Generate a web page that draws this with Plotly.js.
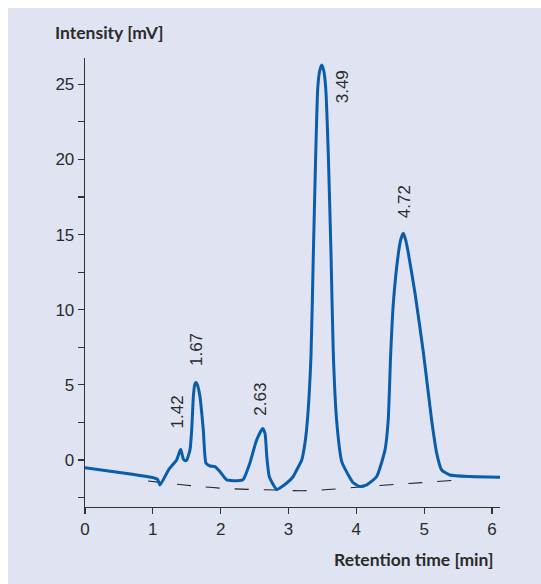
<!DOCTYPE html>
<html>
<head>
<meta charset="utf-8">
<script src="https://cdn.plot.ly/plotly-3.0.1.min.js"></script>
<style>
  html, body { margin: 0; padding: 0; background: #ffffff; width: 541px; height: 584px; overflow: hidden; }
  #chart { position: absolute; left: 8px; top: 8px; width: 533px; height: 576px; }
</style>
</head>
<body>
<div id="chart"></div>
<script>
// Chromatogram signal (retention time in min, intensity in mV)
const signalTime = [0.00, 0.98, 1.07, 1.106, 1.23, 1.35, 1.41, 1.45, 1.48, 1.50, 1.548, 1.573, 1.597, 1.615, 1.636, 1.66, 1.695, 1.744, 1.784, 1.843, 1.917, 1.99, 2.089, 2.285, 2.334, 2.43, 2.53, 2.62, 2.654, 2.68, 2.717, 2.826, 2.97, 3.07, 3.12, 3.195, 3.245, 3.285, 3.332, 3.366, 3.401, 3.431, 3.46, 3.49, 3.52, 3.549, 3.587, 3.627, 3.661, 3.711, 3.785, 3.907, 3.95, 4.05, 4.153, 4.30, 4.423, 4.47, 4.507, 4.545, 4.62, 4.66, 4.693, 4.73, 4.767, 4.865, 4.99, 5.11, 5.185, 5.258, 5.38, 5.676, 6.19];
const signalValue = [-0.51, -1.15, -1.29, -1.66, -0.67, 0.0, 0.71, 0.05, -0.05, 0.0, 0.67, 2.0, 4.2, 4.95, 5.15, 4.95, 4.2, 2.0, -0.22, -0.40, -0.44, -0.78, -1.33, -1.37, -1.29, -0.22, 1.33, 2.1, 1.77, 0.22, -1.11, -1.95, -1.55, -1.1, -0.67, 0.0, 1.2, 3.0, 6.99, 13.64, 20.29, 24.73, 25.9, 26.28, 25.9, 24.73, 20.29, 13.64, 6.99, 2.55, -0.11, -1.2, -1.5, -1.77, -1.66, -1.1, 0.67, 2.66, 7.1, 10.4, 13.75, 14.75, 15.08, 14.6, 13.75, 11.1, 7.1, 2.66, 0.44, -0.67, -1.0, -1.1, -1.15];

// Dashed baseline
const baseTime = [0.93, 1.5, 2.0, 2.8, 3.3, 4.0, 4.5, 5.0, 5.6];
const baseValue = [-1.40, -1.68, -1.88, -2.00, -2.04, -1.82, -1.65, -1.50, -1.30];

// Peak labels (apex positions)
const peakLabels = ['1.42', '1.67', '2.63', '3.49', '4.72'];
const peakTime = [1.41, 1.636, 2.62, 3.49, 4.693];
const peakValue = [0.71, 5.15, 2.1, 26.28, 15.08];

// Axis ticks
const yTickVals = [0, 5, 10, 15, 20, 25];
const xTickVals = [0, 1, 2, 3, 4, 5, 6];

const labelShift = [
  {xs: -3, ys: 19, ya: 'bottom'},
  {xs: 0, ys: 15, ya: 'bottom'},
  {xs: -2, ys: 11, ya: 'bottom'},
  {xs: 21, ys: -3, ya: 'top'},
  {xs: 2, ys: 13, ya: 'bottom'}
];

const textColor = '#2b2b2b';
const tickFont = {family: 'Liberation Sans, Arial, sans-serif', size: 17, color: textColor};
const titleFont = {family: 'Lato, sans-serif', size: 17.5, color: textColor, weight: 700};

const traces = [
  {
    x: baseTime, y: baseValue, type: 'scatter', mode: 'lines',
    line: {color: '#222222', width: 1.1, dash: '14px,15px', shape: 'spline', smoothing: 1},
    hoverinfo: 'skip', showlegend: false
  },
  {
    x: signalTime, y: signalValue, type: 'scatter', mode: 'lines',
    line: {color: '#0a5daa', width: 3, shape: 'spline', smoothing: 0.5},
    hoverinfo: 'skip', showlegend: false
  }
];

const annotations = peakLabels.map((t, i) => ({
  x: peakTime[i], y: peakValue[i], xref: 'x', yref: 'y',
  text: t, showarrow: false, textangle: -90,
  xanchor: 'center', yanchor: labelShift[i].ya,
  xshift: labelShift[i].xs, yshift: labelShift[i].ys,
  font: tickFont
}));

annotations.push({
  x: -0.077, y: 1.0557, xref: 'paper', yref: 'paper',
  text: 'Intensity [mV]', showarrow: false,
  xanchor: 'left', yanchor: 'middle', font: titleFont
});
annotations.push({
  x: 0.988, y: -0.118, xref: 'paper', yref: 'paper',
  text: 'Retention time [min]', showarrow: false,
  xanchor: 'right', yanchor: 'middle', font: titleFont
});

const layout = {
  width: 533, height: 576,
  margin: {l: 77, r: 41, t: 50, b: 77, pad: 0},
  paper_bgcolor: '#e0e4f2',
  plot_bgcolor: 'rgba(0,0,0,0)',
  showlegend: false,
  xaxis: {
    range: [0, 6.118], showgrid: false, zeroline: false,
    showline: true, linecolor: '#333333', linewidth: 1.3,
    ticks: 'outside', ticklen: 6, tickwidth: 1.2, tickcolor: '#333333',
    tickmode: 'array', tickvals: xTickVals, ticktext: xTickVals.map(String),
    tickfont: tickFont, fixedrange: true
  },
  yaxis: {
    range: [-3.13, 26.75], showgrid: false, zeroline: false,
    showline: true, linecolor: '#333333', linewidth: 1.3,
    ticks: 'outside', ticklen: 6, tickwidth: 1.2, tickcolor: '#333333',
    tickmode: 'array', tickvals: yTickVals, ticktext: yTickVals.map(String),
    tickfont: tickFont, fixedrange: true,
    minor: {dtick: 2.5, tick0: 0, ticks: 'outside', ticklen: 6, tickwidth: 1.2, tickcolor: '#333333', showgrid: false}
  },
  annotations: annotations
};

Plotly.newPlot('chart', traces, layout, {displayModeBar: false, staticPlot: true});
</script>
</body>
</html>
